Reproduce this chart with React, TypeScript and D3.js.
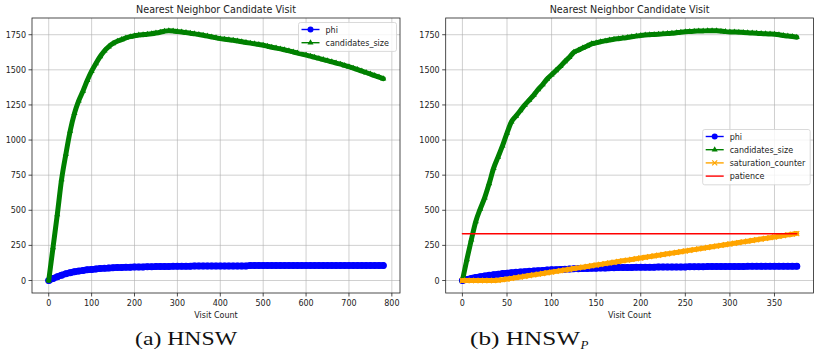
import { useRef, useEffect } from "react";
import * as d3 from "d3";

// HNSW run, one value every 10 visits (0..780)
const stepA = 10;
const phiA = [
  0, 14, 27, 38, 48, 56, 62, 67, 72, 76,
  79, 82, 85, 87, 89, 91, 92, 93, 94, 95,
  96, 97, 97, 98, 98, 99, 99, 100, 100, 101,
  102, 102, 102, 102, 103, 103, 103, 103, 103, 104,
  104, 104, 104, 104, 104, 104, 104, 106, 106, 106,
  106, 106, 107, 107, 107, 107, 107, 107, 107, 107,
  107, 107, 107, 107, 107, 107, 107, 107, 107, 107,
  107, 107, 107, 107, 107, 107, 107, 107, 107,
];
const candidatesA = [
  0, 235, 470, 720, 900, 1065, 1190, 1280, 1350, 1425,
  1490, 1545, 1595, 1635, 1665, 1688, 1703, 1715, 1727, 1736,
  1743, 1747, 1750, 1753, 1757, 1762, 1768, 1775, 1779, 1777,
  1772, 1769, 1765, 1761, 1756, 1752, 1746, 1740, 1734, 1728,
  1722, 1718, 1714, 1710, 1705, 1700, 1695, 1690, 1685, 1680,
  1675, 1668, 1661, 1655, 1649, 1642, 1635, 1627, 1620, 1612,
  1605, 1597, 1589, 1581, 1573, 1565, 1557, 1548, 1540, 1531,
  1522, 1512, 1502, 1491, 1481, 1470, 1459, 1448, 1437,
];

// HNSW_P run, one value every 5 visits (0..375)
const stepB = 5;
const phiB = [
  0, 8, 15, 21, 27, 32, 37, 41, 45, 49,
  52, 55, 58, 61, 63, 65, 68, 70, 72, 74,
  76, 77, 79, 80, 82, 83, 84, 85, 86, 87,
  88, 89, 89, 90, 91, 92, 92, 93, 93, 94,
  94, 95, 95, 95, 96, 96, 96, 97, 97, 97,
  97, 98, 98, 98, 98, 99, 99, 99, 99, 100,
  100, 100, 100, 100, 101, 101, 101, 101, 101, 101,
  102, 102, 102, 102, 102, 102,
];
const candidatesB = [
  0, 150, 290, 420, 510, 590, 690, 800, 880, 960,
  1050, 1130, 1170, 1210, 1250, 1285, 1320, 1360, 1395, 1435,
  1465, 1495, 1525, 1560, 1590, 1625, 1640, 1655, 1670, 1685,
  1692, 1700, 1706, 1712, 1718, 1722, 1726, 1730, 1735, 1740,
  1745, 1748, 1750, 1752, 1754, 1756, 1758, 1760, 1764, 1768,
  1771, 1773, 1775, 1776, 1777, 1778, 1779, 1778, 1775, 1772,
  1770, 1769, 1768, 1766, 1764, 1762, 1760, 1758, 1757, 1755,
  1753, 1750, 1745, 1740, 1737, 1732,
];
const saturationB = [
  0, 0, 0, 0, 0, 0, 0, 0, 2, 6,
  10, 15, 20, 25, 30, 35, 40, 45, 50, 55,
  60, 65, 70, 75, 80, 85, 90, 95, 100, 105,
  110, 115, 120, 125, 130, 135, 140, 145, 150, 155,
  160, 165, 170, 175, 180, 185, 190, 195, 200, 205,
  210, 215, 220, 225, 230, 235, 240, 245, 250, 255,
  260, 265, 270, 275, 280, 285, 290, 295, 300, 305,
  310, 315, 320, 325, 330, 334,
];
const patience = 333;

const yTicks = [0, 250, 500, 750, 1000, 1250, 1500, 1750];
const xTicksA = [0, 100, 200, 300, 400, 500, 600, 700, 800];
const xTicksB = [0, 50, 100, 150, 200, 250, 300, 350];

const title = "Nearest Neighbor Candidate Visit";
const xLabel = "Visit Count";

type Pt = { v: number; y: number };
const toPts = (arr: number[], step: number): Pt[] => arr.map((y, i) => ({ v: i * step, y }));

const FONT = "DejaVu Sans, sans-serif";
const BLUE = "#0000ff";
const GREEN = "#008000";
const ORANGE = "#ffa500";
const RED = "#ff0000";

interface Series {
  name: string;
  color: string;
  marker: "o" | "^" | "x" | "none";
  pts: Pt[];
  width: number;
}

function drawPanel(
  svg: d3.Selection<SVGSVGElement, unknown, null, undefined>,
  box: { left: number; right: number; top: number; bottom: number },
  xDomain: [number, number],
  xTicks: number[],
  series: Series[],
  legend: { x: number; y: number; w: number }
) {
  const g = svg.append("g");
  const x = d3.scaleLinear().domain(xDomain).range([box.left, box.right]);
  const y = d3.scaleLinear().domain([-89, 1869]).range([box.bottom, box.top]);

  const clipId = `clip-${Math.round(box.left)}`;
  g.append("clipPath")
    .attr("id", clipId)
    .append("rect")
    .attr("x", box.left)
    .attr("y", box.top)
    .attr("width", box.right - box.left)
    .attr("height", box.bottom - box.top);

  // Grid
  g.selectAll(".gx")
    .data(xTicks)
    .join("line")
    .attr("x1", (d) => x(d))
    .attr("x2", (d) => x(d))
    .attr("y1", box.top)
    .attr("y2", box.bottom)
    .attr("stroke", "#b0b0b0")
    .attr("stroke-opacity", 0.75)
    .attr("stroke-width", 0.8);
  g.selectAll(".gy")
    .data(yTicks)
    .join("line")
    .attr("x1", box.left)
    .attr("x2", box.right)
    .attr("y1", (d) => y(d))
    .attr("y2", (d) => y(d))
    .attr("stroke", "#b0b0b0")
    .attr("stroke-opacity", 0.75)
    .attr("stroke-width", 0.8);

  const plot = g.append("g").attr("clip-path", `url(#${clipId})`);

  series.forEach((s) => {
    const line = d3
      .line<Pt>()
      .x((d) => x(d.v))
      .y((d) => y(d.y))
      .curve(d3.curveMonotoneX);
    plot
      .append("path")
      .datum(s.pts)
      .attr("d", line)
      .attr("fill", "none")
      .attr("stroke", s.color)
      .attr("stroke-width", s.width)
      .attr("stroke-linecap", "round")
      .attr("stroke-linejoin", "round");

    if (s.marker === "o") {
      plot
        .selectAll(null)
        .data(s.pts)
        .join("circle")
        .attr("cx", (d) => x(d.v))
        .attr("cy", (d) => y(d.y))
        .attr("r", 3.5)
        .attr("fill", s.color);
    } else if (s.marker === "^") {
      plot
        .selectAll(null)
        .data(s.pts)
        .join("path")
        .attr("d", d3.symbol(d3.symbolTriangle, 16)())
        .attr("transform", (d) => `translate(${x(d.v)},${y(d.y)})`)
        .attr("fill", s.color);
    } else if (s.marker === "x") {
      plot
        .selectAll(null)
        .data(s.pts)
        .join("path")
        .attr("d", "M-2.5,-2.5L2.5,2.5M-2.5,2.5L2.5,-2.5")
        .attr("transform", (d) => `translate(${x(d.v)},${y(d.y)})`)
        .attr("stroke", s.color)
        .attr("stroke-width", 1.2);
    }
  });

  // Spines
  g.append("rect")
    .attr("x", box.left)
    .attr("y", box.top)
    .attr("width", box.right - box.left)
    .attr("height", box.bottom - box.top)
    .attr("fill", "none")
    .attr("stroke", "#222")
    .attr("stroke-width", 0.8);

  // Ticks
  const xAxis = g.append("g").attr("font-family", FONT).attr("font-size", 8).attr("fill", "#222");
  xTicks.forEach((t) => {
    xAxis
      .append("line")
      .attr("x1", x(t))
      .attr("x2", x(t))
      .attr("y1", box.bottom)
      .attr("y2", box.bottom + 3.5)
      .attr("stroke", "#222")
      .attr("stroke-width", 0.8);
    xAxis
      .append("text")
      .attr("x", x(t))
      .attr("y", box.bottom + 13)
      .attr("text-anchor", "middle")
      .text(t);
  });
  yTicks.forEach((t) => {
    xAxis
      .append("line")
      .attr("x1", box.left - 3.5)
      .attr("x2", box.left)
      .attr("y1", y(t))
      .attr("y2", y(t))
      .attr("stroke", "#222")
      .attr("stroke-width", 0.8);
    xAxis
      .append("text")
      .attr("x", box.left - 6)
      .attr("y", y(t) + 3)
      .attr("text-anchor", "end")
      .text(t);
  });

  // Labels
  g.append("text")
    .attr("x", (box.left + box.right) / 2)
    .attr("y", box.bottom + 24.5)
    .attr("text-anchor", "middle")
    .attr("font-family", FONT)
    .attr("font-size", 8)
    .attr("fill", "#222")
    .text(xLabel);
  g.append("text")
    .attr("x", (box.left + box.right) / 2)
    .attr("y", box.top - 5)
    .attr("text-anchor", "middle")
    .attr("font-family", FONT)
    .attr("font-size", 9.6)
    .attr("fill", "#222")
    .text(title);

  // Legend
  const rowH = 13.2;
  const lg = g.append("g").attr("transform", `translate(${legend.x},${legend.y})`);
  lg.append("rect")
    .attr("width", legend.w)
    .attr("height", series.length * rowH + 2.5)
    .attr("rx", 2)
    .attr("fill", "#fff")
    .attr("fill-opacity", 0.8)
    .attr("stroke", "#d0d0d0")
    .attr("stroke-width", 0.8);
  series.forEach((s, i) => {
    const cy = 7 + i * rowH;
    lg.append("line")
      .attr("x1", 3)
      .attr("x2", 21)
      .attr("y1", cy)
      .attr("y2", cy)
      .attr("stroke", s.color)
      .attr("stroke-width", 1.4);
    if (s.marker === "o") {
      lg.append("circle").attr("cx", 12).attr("cy", cy).attr("r", 3).attr("fill", s.color);
    } else if (s.marker === "^") {
      lg.append("path")
        .attr("d", d3.symbol(d3.symbolTriangle, 16)())
        .attr("transform", `translate(12,${cy})`)
        .attr("fill", s.color);
    } else if (s.marker === "x") {
      lg.append("path")
        .attr("d", "M-2.5,-2.5L2.5,2.5M-2.5,2.5L2.5,-2.5")
        .attr("transform", `translate(12,${cy})`)
        .attr("stroke", s.color)
        .attr("stroke-width", 1.2);
    }
    lg.append("text")
      .attr("x", 27)
      .attr("y", cy + 3)
      .attr("font-family", FONT)
      .attr("font-size", 8)
      .attr("fill", "#222")
      .text(s.name);
  });
}

export default function App() {
  const svgRef = useRef<SVGSVGElement>(null);

  useEffect(() => {
    if (!svgRef.current) return;
    const svg = d3.select(svgRef.current);
    svg.selectAll("*").remove();

    drawPanel(
      svg,
      { left: 32, right: 400, top: 18, bottom: 293 },
      [-39, 819],
      xTicksA,
      [
        { name: "phi", color: BLUE, marker: "o", pts: toPts(phiA, stepA), width: 6.5 },
        { name: "candidates_size", color: GREEN, marker: "^", pts: toPts(candidatesA, stepA), width: 5 },
      ],
      { x: 298.5, y: 22.5, w: 98 }
    );

    const lastB = (candidatesB.length - 1) * stepB;
    drawPanel(
      svg,
      { left: 445.7, right: 813.5, top: 18, bottom: 293 },
      [-18.75, 393.75],
      xTicksB,
      [
        { name: "phi", color: BLUE, marker: "o", pts: toPts(phiB, stepB), width: 6.5 },
        { name: "candidates_size", color: GREEN, marker: "^", pts: toPts(candidatesB, stepB), width: 5 },
        { name: "saturation_counter", color: ORANGE, marker: "x", pts: toPts(saturationB, stepB), width: 5 },
        {
          name: "patience",
          color: RED,
          marker: "none",
          pts: [
            { v: 0, y: patience },
            { v: lastB, y: patience },
          ],
          width: 1.4,
        },
      ],
      { x: 702.7, y: 129.5, w: 107.5 }
    );

    // Sub-figure captions
    const cap = svg.append("g").attr("font-family", "Liberation Serif, serif").attr("fill", "#111");
    cap.append("text")
      .attr("x", 135)
      .attr("y", 345)
      .attr("font-size", 19)
      .attr("textLength", 102)
      .attr("lengthAdjust", "spacingAndGlyphs")
      .text("(a) HNSW");
    const b = cap.append("text").attr("x", 470).attr("y", 345).attr("font-size", 19);
    b.append("tspan").attr("textLength", 110).attr("lengthAdjust", "spacingAndGlyphs").text("(b) HNSW");
    b.append("tspan")
      .attr("dy", 3.5)
      .attr("dx", 0.5)
      .attr("font-size", 13)
      .attr("font-style", "italic")
      .text("P");
  }, []);

  return (
    <svg
      ref={svgRef}
      width={814}
      height={358}
      viewBox="0 0 814 358"
      style={{ position: "absolute", left: 0, top: 0, background: "#fff" }}
    />
  );
}
